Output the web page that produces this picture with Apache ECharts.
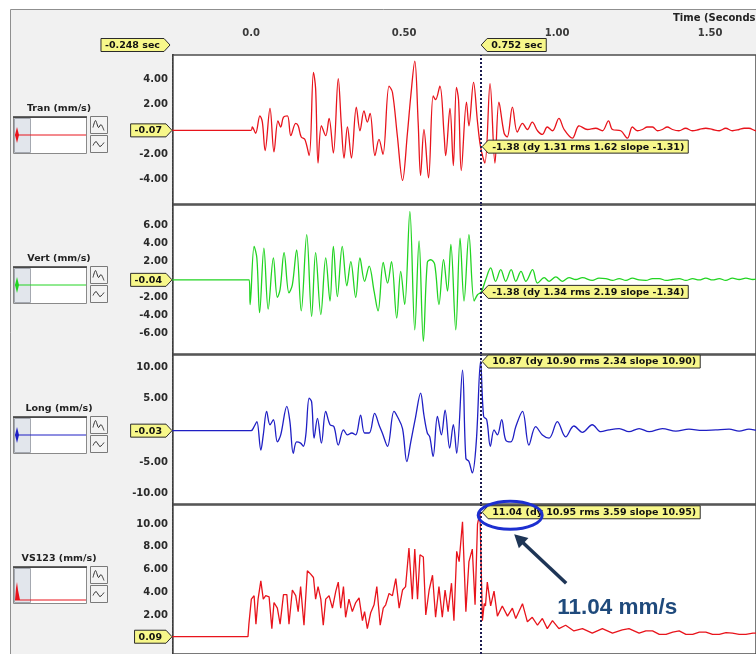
<!DOCTYPE html>
<html><head><meta charset="utf-8">
<script src="https://cdn.jsdelivr.net/npm/echarts@6/dist/echarts.min.js"></script>
<style>html,body{margin:0;padding:0;background:#fff}#c{width:756px;height:654px}</style>
</head><body><div id="c"></div>
<script>
// ---------- data ----------
const channelNames = ['Tran (mm/s)', 'Vert (mm/s)', 'Long (mm/s)', 'VS123 (mm/s)'];
const timeTicks = [0, 0.5, 1.0, 1.5];
const tranTicks = [-4, -2, 2, 4];
const vertTicks = [-6, -4, -2, 2, 4, 6];
const longTicks = [-10, -5, 5, 10];
const vsTicks = [2, 4, 6, 8, 10];
const cursorTime = 0.752;
const leftCursorText = '-0.248 sec';
const cursorText = '0.752 sec';
const baselineValues = [-0.07, -0.04, -0.03, 0.09];
const readoutValues = [-1.38, -1.38, 10.87, 11.04];
const readoutTexts = [
  '-1.38 (dy 1.31 rms 1.62 slope -1.31)',
  '-1.38 (dy 1.34 rms 2.19 slope -1.34)',
  '10.87 (dy 10.90 rms 2.34 slope 10.90)',
  '11.04 (dy 10.95 rms 3.59 slope 10.95)'
];
const calloutText = '11.04 mm/s';

const tranData = [[-0.26,-0.07],[0.000,-0.07],[0.004,0.2],[0.015,-0.3],[0.029,1.1],[0.037,0.6],[0.046,-1.7],[0.062,1.7],[0.075,-1.8],[0.088,0.7],[0.097,0.2],[0.106,1.0],[0.119,1.1],[0.130,-0.5],[0.146,0.5],[0.154,0.3],[0.164,-0.6],[0.176,-0.8],[0.190,-2.1],[0.204,4.6],[0.211,3.3],[0.219,-2.7],[0.230,0.3],[0.244,-0.5],[0.255,0.9],[0.269,-1.9],[0.285,4.1],[0.295,0.4],[0.304,-2.3],[0.315,0.2],[0.328,-2.3],[0.344,1.8],[0.356,-0.1],[0.369,1.5],[0.380,0.6],[0.389,1.3],[0.405,-2.1],[0.418,-0.8],[0.431,-2.0],[0.451,3.5],[0.462,3.0],[0.478,-0.5],[0.495,-4.1],[0.511,-0.3],[0.522,2.7],[0.535,5.5],[0.546,0.6],[0.554,-3.7],[0.565,0.0],[0.580,-3.9],[0.595,2.7],[0.603,2.4],[0.617,3.5],[0.631,-0.5],[0.636,-2.1],[0.650,1.7],[0.661,-2.9],[0.671,3.4],[0.678,2.4],[0.687,-3.3],[0.704,2.2],[0.712,0.3],[0.727,3.8],[0.740,0.6],[0.750,-1.4],[0.764,-2.7],[0.781,3.7],[0.797,-2.7],[0.810,2.2],[0.827,-0.3],[0.837,-0.6],[0.854,1.8],[0.870,-0.2],[0.887,0.5],[0.903,0.0],[0.919,0.6],[0.936,-0.1],[0.952,-0.4],[0.968,0.2],[0.985,-0.1],[1.006,0.9],[1.023,0.0],[1.050,-0.7],[1.072,0.3],[1.099,0.0],[1.126,0.1],[1.148,-0.1],[1.168,0.7],[1.181,0.0],[1.208,-0.1],[1.230,-0.7],[1.246,0.2],[1.262,-0.1],[1.279,0.0],[1.295,0.2],[1.312,0.2],[1.328,-0.1],[1.344,0.0],[1.360,0.2],[1.377,0.0],[1.398,-0.1],[1.420,0.1],[1.442,-0.1],[1.464,0.0],[1.486,0.1],[1.508,0.0],[1.530,-0.1],[1.551,0.1],[1.573,-0.1],[1.595,0.0],[1.611,0.1],[1.627,0.1],[1.650,-0.1],[1.680,0.1],[1.710,0.0],[1.750,0.05]];

const vertData = [[-0.26,-0.04],[-0.006,-0.04],[-0.003,-2.8],[0.010,3.7],[0.019,2.4],[0.028,-3.7],[0.042,3.5],[0.056,-3.3],[0.073,2.4],[0.086,-2.0],[0.095,-1.1],[0.108,3.0],[0.124,-1.5],[0.135,-0.6],[0.149,3.3],[0.164,-3.5],[0.182,5.0],[0.198,-4.1],[0.211,3.0],[0.228,-3.9],[0.244,2.4],[0.258,-2.4],[0.269,3.7],[0.282,-1.9],[0.298,3.7],[0.313,-0.7],[0.326,2.0],[0.342,-2.0],[0.356,2.4],[0.371,-0.2],[0.386,1.5],[0.402,-1.3],[0.415,-3.5],[0.432,1.9],[0.446,-0.4],[0.459,2.0],[0.476,-4.3],[0.489,0.9],[0.502,-2.8],[0.519,7.6],[0.535,-5.6],[0.549,4.3],[0.563,-6.9],[0.576,1.9],[0.587,2.2],[0.600,1.7],[0.614,-2.8],[0.629,2.2],[0.642,-1.3],[0.653,3.9],[0.669,-5.6],[0.683,4.6],[0.696,-2.4],[0.712,5.0],[0.729,-2.4],[0.740,-1.7],[0.752,-1.4],[0.767,0.0],[0.783,1.3],[0.799,-0.2],[0.816,1.1],[0.832,-0.2],[0.850,1.1],[0.865,-0.2],[0.882,0.9],[0.898,-0.2],[0.920,1.1],[0.936,-0.4],[0.958,0.2],[0.974,-0.2],[0.996,0.3],[1.017,-0.2],[1.039,0.2],[1.061,0.0],[1.083,0.2],[1.115,-0.1],[1.137,0.15],[1.159,0.1],[1.181,-0.1],[1.203,0.1],[1.225,-0.1],[1.246,0.15],[1.268,-0.05],[1.290,-0.1],[1.312,0.1],[1.334,0.1],[1.356,-0.1],[1.377,0.0],[1.399,0.1],[1.421,-0.1],[1.443,0.1],[1.464,-0.05],[1.486,0.15],[1.508,-0.05],[1.530,0.1],[1.551,-0.1],[1.573,0.15],[1.595,0.0],[1.617,0.15],[1.640,0.0],[1.660,0.1],[1.700,0.0],[1.750,0.1]];

const longData = [[-0.26,-0.03],[0.000,-0.03],[0.010,0.6],[0.019,1.4],[0.032,-3.1],[0.040,-0.7],[0.051,3.0],[0.062,0.9],[0.073,1.7],[0.086,-1.8],[0.097,-0.7],[0.117,3.8],[0.127,1.4],[0.138,-3.6],[0.149,-1.8],[0.162,-2.0],[0.171,-2.5],[0.179,-0.7],[0.190,5.1],[0.198,4.5],[0.206,-1.2],[0.217,1.9],[0.230,-2.0],[0.244,3.0],[0.258,0.9],[0.271,0.6],[0.285,-2.3],[0.302,0.1],[0.315,-0.7],[0.329,-0.4],[0.342,-0.7],[0.358,2.4],[0.371,-0.4],[0.386,-0.4],[0.404,2.7],[0.418,0.9],[0.429,-0.4],[0.446,-2.5],[0.467,3.0],[0.478,2.2],[0.495,0.3],[0.509,-4.9],[0.522,-1.8],[0.538,2.2],[0.554,5.9],[0.565,2.4],[0.576,-0.4],[0.584,-1.0],[0.595,-4.1],[0.609,2.2],[0.622,-0.7],[0.634,3.2],[0.649,-2.8],[0.661,0.9],[0.672,-3.6],[0.691,9.5],[0.702,-4.4],[0.712,-4.9],[0.723,-6.7],[0.736,-1.8],[0.750,10.9],[0.760,2.2],[0.770,1.7],[0.782,-2.5],[0.794,0.1],[0.805,-0.7],[0.819,1.7],[0.832,-1.5],[0.849,-1.8],[0.865,0.6],[0.887,3.0],[0.908,-2.3],[0.930,0.6],[0.952,-0.7],[0.974,-1.2],[1.001,1.4],[1.028,-1.0],[1.055,0.7],[1.083,-0.3],[1.115,0.9],[1.143,-0.2],[1.170,0.1],[1.203,0.3],[1.235,-0.2],[1.268,0.3],[1.301,-0.2],[1.344,0.3],[1.388,-0.1],[1.431,0.2],[1.475,0.0],[1.519,0.1],[1.562,0.2],[1.595,-0.1],[1.627,0.2],[1.660,0.0],[1.700,0.1],[1.750,0.0]];

const vsData = [[-0.26,0.09],[-0.010,0.09],[-0.007,1.2],[0.001,3.4],[0.010,3.7],[0.016,1.2],[0.023,3.4],[0.032,5.0],[0.040,3.4],[0.048,3.7],[0.059,3.6],[0.068,0.8],[0.075,3.1],[0.086,2.6],[0.095,1.2],[0.106,3.8],[0.117,3.8],[0.124,1.2],[0.135,4.2],[0.146,3.7],[0.154,2.3],[0.162,4.5],[0.173,1.1],[0.184,5.9],[0.195,5.6],[0.204,5.3],[0.211,3.4],[0.219,4.5],[0.228,3.4],[0.236,1.1],[0.244,3.4],[0.255,3.7],[0.266,2.6],[0.277,4.1],[0.285,4.9],[0.293,2.6],[0.302,4.5],[0.309,1.8],[0.320,3.4],[0.331,2.3],[0.342,3.1],[0.353,3.5],[0.364,1.5],[0.371,2.3],[0.380,0.8],[0.391,2.2],[0.402,2.9],[0.411,4.5],[0.422,1.1],[0.432,2.6],[0.440,2.9],[0.451,3.9],[0.462,3.7],[0.473,5.2],[0.484,2.6],[0.495,4.2],[0.505,4.5],[0.516,7.9],[0.527,3.4],[0.535,7.8],[0.544,3.4],[0.552,7.3],[0.563,7.1],[0.571,2.0],[0.582,4.2],[0.593,5.5],[0.603,1.8],[0.614,4.5],[0.625,1.8],[0.634,4.2],[0.644,2.3],[0.655,4.8],[0.663,1.5],[0.672,7.6],[0.680,6.7],[0.691,10.2],[0.702,2.3],[0.712,6.7],[0.723,7.8],[0.732,2.9],[0.740,10.0],[0.748,11.0],[0.756,1.5],[0.762,3.0],[0.766,2.8],[0.772,4.9],[0.783,2.8],[0.794,4.1],[0.805,1.9],[0.821,2.8],[0.838,1.9],[0.854,2.6],[0.865,1.7],[0.887,3.0],[0.903,1.4],[0.919,1.8],[0.936,1.1],[0.952,1.7],[0.968,0.8],[0.985,1.5],[1.006,0.8],[1.028,1.1],[1.055,0.6],[1.083,0.8],[1.115,0.4],[1.148,0.8],[1.181,0.4],[1.213,0.7],[1.235,0.8],[1.268,0.4],[1.290,0.6],[1.312,0.6],[1.334,0.3],[1.356,0.3],[1.378,0.5],[1.399,0.6],[1.421,0.3],[1.443,0.3],[1.465,0.5],[1.486,0.5],[1.508,0.3],[1.530,0.3],[1.552,0.45],[1.573,0.4],[1.595,0.3],[1.617,0.3],[1.640,0.4],[1.660,0.4],[1.700,0.3],[1.750,0.35]];

// ---------- layout / style ----------
const FONT = '"DejaVu Sans", "Liberation Sans", sans-serif';
const PLOT_LEFT = 173, PLOT_W = 583, X_MIN = -0.255, X_MAX = 1.650;
const panels = [
  {top: 55, height: 149, min: -6, max: 6, ticks: tranTicks},
  {top: 205, height: 149, min: -8.3, max: 8.3, ticks: vertTicks},
  {top: 355, height: 149, min: -11.6, max: 11.9, ticks: longTicks},
  {top: 505, height: 160, min: -1.43, max: 11.68, ticks: vsTicks}
];
const colors = ['#e8141c', '#22d422', '#1f1fc4', '#e8141c'];
const seriesData = [tranData, vertData, longData, vsData];

const chart = echarts.init(document.getElementById('c'), null, {renderer: 'canvas'});

const option = {
  animation: false,
  backgroundColor: '#ffffff',
  grid: panels.map(p => ({left: PLOT_LEFT, top: p.top, width: PLOT_W, height: p.height, show: true,
    backgroundColor: '#ffffff', borderColor: '#4d4d4d', borderWidth: 1.5, z: 1})),
  xAxis: panels.map((p, i) => ({
    gridIndex: i, type: 'value', min: X_MIN, max: X_MAX, position: 'top', show: i === 0,
    axisLine: {show: false}, axisTick: {show: false}, splitLine: {show: false},
    axisLabel: {show: i === 0, customValues: timeTicks, margin: 17,
      formatter: v => (v === 0 ? '0.0' : v.toFixed(2)),
      fontFamily: FONT, fontSize: 10, fontWeight: 'bold', color: '#3a3a3a'}
  })),
  yAxis: panels.map((p, i) => ({
    gridIndex: i, type: 'value', min: p.min, max: p.max,
    axisLine: {show: true, onZero: false, lineStyle: {color: '#000', width: 2, type: [2, 1.5]}},
    axisTick: {show: false}, splitLine: {show: false},
    axisLabel: {customValues: p.ticks, formatter: v => v.toFixed(2), margin: 5,
      fontFamily: FONT, fontSize: 10, fontWeight: 'bold', color: '#2a2a2a'}
  })),
  series: seriesData.map((d, i) => ({
    type: 'line', xAxisIndex: i, yAxisIndex: i, data: d, showSymbol: false,
    smooth: i === 3 ? 0 : 0.35,
    lineStyle: {color: colors[i], width: 1.3}, z: 3,
    markLine: {silent: true, symbol: ['none', 'none'], label: {show: false},
      lineStyle: {type: 'dotted', color: '#1c1c50', width: 2},
      data: [{xAxis: cursorTime}]}
  })),
  graphic: []
};
chart.setOption(option);

// ---------- annotations ----------
const ctx = document.createElement('canvas').getContext('2d');
const TAG_FONT = 'bold 9.5px ' + FONT;
function textW(t, f) { ctx.font = f; return ctx.measureText(t).width; }
function tag(tipX, tipY, text, dir) {
  const w = textW(text, TAG_FONT) + 8, h = 13, a = 6;
  let pts, cx;
  if (dir === 'right') {
    const x1 = tipX - a - w;
    pts = [[x1, tipY - h / 2], [tipX - a, tipY - h / 2], [tipX, tipY], [tipX - a, tipY + h / 2], [x1, tipY + h / 2]];
    cx = x1 + w / 2;
  } else {
    const x1 = tipX + a;
    pts = [[tipX, tipY], [x1, tipY - h / 2], [x1 + w, tipY - h / 2], [x1 + w, tipY + h / 2], [x1, tipY + h / 2]];
    cx = x1 + w / 2;
  }
  return [
    {type: 'polygon', z: 100, shape: {points: pts}, style: {fill: '#f7f78a', stroke: '#2b2b2b', lineWidth: 1}},
    {type: 'text', z: 101, x: cx, y: tipY + 0.5, style: {text: text, font: TAG_FONT, fill: '#111', align: 'center', verticalAlign: 'middle'}}
  ];
}

const els = [];
els.push({type: 'rect', z: -10, shape: {x: 10.5, y: 9.5, width: 800, height: 700},
  style: {fill: '#f1f1f1', stroke: '#8f8f8f', lineWidth: 1}});
els.push({type: 'text', z: 50, x: 673, y: 18, style: {text: 'Time (Seconds)', font: 'bold 10px ' + FONT, fill: '#222', align: 'left', verticalAlign: 'middle'}});

const curX = chart.convertToPixel({xAxisIndex: 0}, cursorTime);
const leftX = chart.convertToPixel({xAxisIndex: 0}, X_MIN);
els.push(...tag(leftX - 3, 45, leftCursorText, 'right'));
els.push(...tag(curX, 45, cursorText, 'left'));

panels.forEach((p, i) => {
  const T = p.top;
  const by = chart.convertToPixel({yAxisIndex: i}, baselineValues[i]);
  els.push(...tag(leftX - 1, by, baselineValues[i].toFixed(2), 'right'));
  const ry = chart.convertToPixel({yAxisIndex: i}, readoutValues[i]);
  els.push(...tag(curX + 1, ry, readoutTexts[i], 'left'));
  els.push({type: 'text', z: 50, x: 59, y: T + 54, style: {text: channelNames[i], font: 'bold 9.5px ' + FONT, fill: '#222', align: 'center', verticalAlign: 'middle'}});
  els.push({type: 'rect', z: 50, shape: {x: 13.5, y: T + 62.5, width: 73, height: 36}, style: {fill: '#fff', stroke: '#8a8a8a', lineWidth: 1}});
  els.push({type: 'line', z: 51, shape: {x1: 13, y1: T + 62, x2: 87, y2: T + 62}, style: {stroke: '#333', lineWidth: 1.5}});
  els.push({type: 'rect', z: 51, shape: {x: 14.5, y: T + 63.5, width: 16, height: 34}, style: {fill: '#e2e6ec', stroke: '#a4a8b0', lineWidth: 1}});
  const isVs = i === 3;
  const my = isVs ? T + 95 : T + 80;
  els.push({type: 'line', z: 52, shape: {x1: 15, y1: my, x2: 86, y2: my}, style: {stroke: colors[i], lineWidth: 1}});
  if (isVs) {
    els.push({type: 'polygon', z: 53, shape: {points: [[15, my], [16, my - 12], [17, my - 18], [18, my - 10], [20, my]]}, style: {fill: colors[i]}});
  } else {
    els.push({type: 'polygon', z: 53, shape: {points: [[15, my], [17, my - 8], [19, my], [17, my + 8]]}, style: {fill: colors[i]}});
  }
  [T + 61.5, T + 80.5].forEach((y, k) => {
    els.push({type: 'rect', z: 50, shape: {x: 90.5, y: y, width: 17, height: 17}, style: {fill: '#f3f3f3', stroke: '#7a7a7a', lineWidth: 1}});
    const pts = k === 0
      ? [[93, y + 11], [95.5, y + 4], [98.5, y + 11], [101, y + 8], [104, y + 14]]
      : [[93, y + 10], [96, y + 6], [100, y + 11], [104, y + 7]];
    els.push({type: 'polyline', z: 51, shape: {points: pts, smooth: 0.3}, style: {stroke: '#333', lineWidth: 1, fill: null}});
  });
});

const vy = chart.convertToPixel({yAxisIndex: 3}, readoutValues[3]);
const ex = curX + 29, ey = vy + 3;
els.push({type: 'ellipse', z: 110, shape: {cx: ex, cy: ey, rx: 32, ry: 14}, style: {fill: null, stroke: '#1c2fd0', lineWidth: 3}});
const ax1 = curX + 85, ay1 = vy + 71, ax2 = curX + 33, ay2 = vy + 22;
const dx = ax2 - ax1, dy = ay2 - ay1, L = Math.hypot(dx, dy), ux = dx / L, uy = dy / L;
const hl = 13, hw = 7;
els.push({type: 'line', z: 110, shape: {x1: ax1, y1: ay1, x2: ax2 - ux * hl * 0.8, y2: ay2 - uy * hl * 0.8}, style: {stroke: '#1e3556', lineWidth: 3.5}});
els.push({type: 'polygon', z: 110, shape: {points: [[ax2, ay2], [ax2 - ux * hl - uy * hw, ay2 - uy * hl + ux * hw], [ax2 - ux * hl + uy * hw, ay2 - uy * hl - ux * hw]]}, style: {fill: '#1e3556'}});
els.push({type: 'text', z: 110, x: curX + 76, y: vy + 96, style: {text: calloutText, font: 'bold 22.5px "Liberation Sans", Arial, sans-serif', fill: '#1f4a7c', align: 'left', verticalAlign: 'middle'}});

chart.setOption({graphic: {elements: els}});
</script>
</body></html>
